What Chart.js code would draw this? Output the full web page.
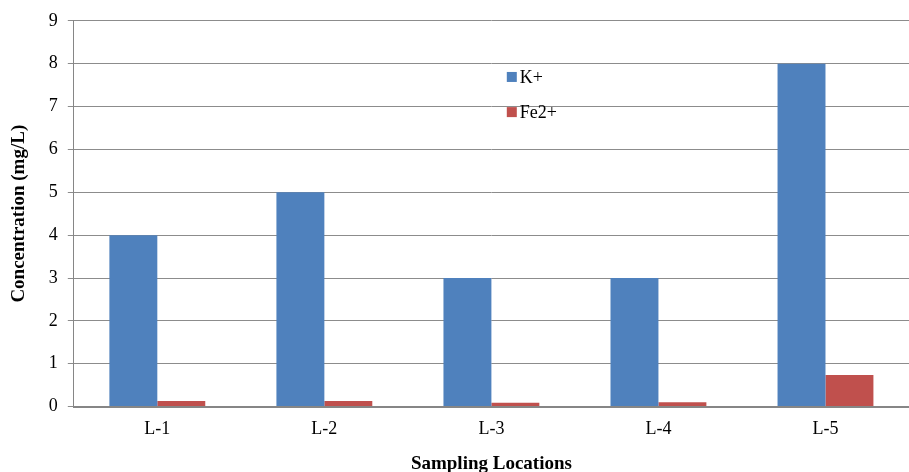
<!DOCTYPE html>
<html>
<head>
<meta charset="utf-8">
<script src="https://cdn.jsdelivr.net/npm/chart.js@4"></script>
<style>
  html, body { margin: 0; padding: 0; background: #fff; }
  #wrap { width: 909px; height: 472px; }
</style>
</head>
<body>
<div id="wrap"><canvas id="chart" width="909" height="472"></canvas></div>
<script>
const locations = ['L-1', 'L-2', 'L-3', 'L-4', 'L-5'];
const potassium = [4, 5, 3, 3, 8];
const iron = [0.13, 0.13, 0.09, 0.1, 0.74];
const yTicks = [0, 1, 2, 3, 4, 5, 6, 7, 8, 9];

const serif = 'Liberation Serif, Times New Roman, serif';

// legend drawn inside the plot area, like the original
const innerLegend = {
  id: 'innerLegend',
  afterDraw(chart) {
    const ctx = chart.ctx;
    const x = chart.chartArea.left + 433;
    const ys = [chart.scales.y.getPixelForValue(7.69), chart.scales.y.getPixelForValue(6.87)];
    ctx.save();
    ctx.font = '18px ' + serif;
    ctx.textBaseline = 'middle';
    chart.data.datasets.forEach((ds, i) => {
      ctx.fillStyle = ds.backgroundColor;
      ctx.fillRect(x, ys[i] - 5, 10, 10);
      ctx.fillStyle = '#000';
      ctx.fillText(ds.label, x + 13, ys[i] + 1);
    });
    ctx.restore();
  }
};

new Chart(document.getElementById('chart'), {
  type: 'bar',
  data: {
    labels: locations,
    datasets: [
      { label: 'K+', data: potassium, backgroundColor: '#4F81BD' },
      { label: 'Fe2+', data: iron, backgroundColor: '#C0504D' }
    ]
  },
  options: {
    responsive: false,
    animation: false,
    layout: { padding: { top: 11, right: 0, left: 8, bottom: 0 } },
    datasets: { bar: { categoryPercentage: 0.574, barPercentage: 1 } },
    plugins: {
      legend: { display: false },
      tooltip: { enabled: false }
    },
    scales: {
      x: {
        grid: { display: false },
        border: { color: '#868686', width: 2 },
        ticks: { color: '#000', font: { family: serif, size: 18 }, padding: 4 },
        title: {
          display: true, text: 'Sampling Locations', color: '#000',
          font: { family: serif, size: 19, weight: 'bold' }, padding: { top: 8, bottom: -3 }
        }
      },
      y: {
        min: 0, max: 9,
        afterBuildTicks(axis) { axis.ticks = yTicks.map(v => ({ value: v })); },
        grid: { color: '#8c8c8c', lineWidth: 1, tickLength: 6 },
        border: { color: '#868686', width: 1 },
        ticks: { color: '#000', font: { family: serif, size: 18 }, padding: 10 },
        title: {
          display: true, text: 'Concentration (mg/L)', color: '#000',
          font: { family: serif, size: 19, weight: 'bold' }, padding: { top: 0, bottom: 8 }
        }
      }
    }
  },
  plugins: [innerLegend]
});
</script>
</body>
</html>
